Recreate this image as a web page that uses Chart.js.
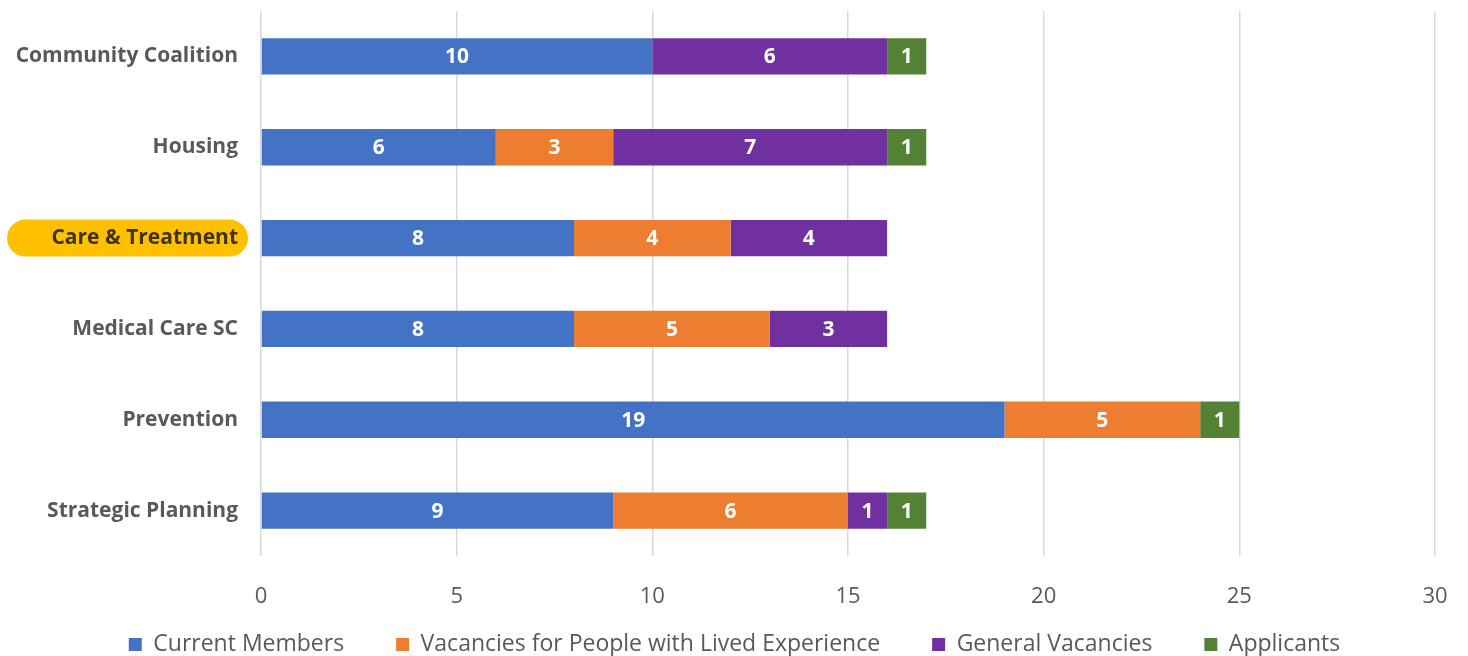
<!DOCTYPE html>
<html>
<head>
<meta charset="utf-8">
<script src="https://cdn.jsdelivr.net/npm/chart.js@4.4.1/dist/chart.umd.min.js"></script>
<style>
  html, body { margin: 0; padding: 0; background: #fff; }
  #wrap { width: 1468px; height: 656px; }
</style>
</head>
<body>
<div id="wrap"><canvas id="boardChart"></canvas></div>
<script>
// -------------------------------
// Data ---------------------------
// -------------------------------
const committees = [
  "Community Coalition",
  "Housing",
  "Care & Treatment",
  "Medical Care SC",
  "Prevention",
  "Strategic Planning",
];
const currentMembers = [10, 6, 8, 8, 19, 9];
const livedExperienceVacancies = [null, 3, 4, 5, 5, 6];
const generalVacancies = [6, 7, 4, 3, null, 1];
const applicants = [1, 1, null, null, 1, 1];
const xTicks = [0, 5, 10, 15, 20, 25, 30];

const highlightIndex = 2; // "Care & Treatment" gets the yellow pill
const FONT = "'Open Sans', Lato, sans-serif";
const GREY = "#595959";
const LEGEND_GAP = 52;   // gap between legend items (chart.js uses labels.padding for it)
const LEGEND_BOX = 38;   // height reserved for the legend under the x axis
const LEGEND_SHIFT = 37; // pull legend up so the big padding doesn't push it off canvas
const LEGEND_NUDGE = 17; // legend sits a little right of centre in the original

// -------------------------------
// Plugins ------------------------
// -------------------------------
const highlightPill = {
  id: "highlightPill",
  beforeDraw(chart) {
    const ctx = chart.ctx;
    const y = chart.scales.y.getPixelForTick(highlightIndex);
    ctx.save();
    ctx.fillStyle = "#FFC000";
    ctx.beginPath();
    ctx.roundRect(7, y - 18.5, 241, 37, 18.5);
    ctx.fill();
    ctx.restore();
  },
};

// labels.padding is both the item gap and the vertical padding; split them
const legendFit = {
  id: "legendFit",
  beforeLayout(chart) {
    const legend = chart.legend;
    if (!legend || legend._fixedFit) return;
    const fit = legend.fit;
    legend.fit = function () {
      fit.call(this);
      this.height = LEGEND_BOX;
    };
    legend._fixedFit = true;
  },
  afterLayout(chart) {
    const legend = chart.legend;
    if (!legend) return;
    legend.top -= LEGEND_SHIFT;
    legend.height += LEGEND_SHIFT;
    legend.left += LEGEND_NUDGE;
    legend.right += LEGEND_NUDGE;
  },
};

const barValues = {
  id: "barValues",
  afterDatasetsDraw(chart) {
    const ctx = chart.ctx;
    ctx.save();
    ctx.fillStyle = "#ffffff";
    ctx.font = "bold 21px " + FONT;
    ctx.textAlign = "center";
    ctx.textBaseline = "middle";
    chart.data.datasets.forEach((ds, i) => {
      chart.getDatasetMeta(i).data.forEach((bar, j) => {
        const v = ds.data[j];
        if (v === null || v === undefined) return;
        const p = bar.getProps(["x", "y", "base"], true);
        ctx.fillText(String(v), (p.x + p.base) / 2, p.y + 1);
      });
    });
    ctx.restore();
  },
};

// -------------------------------
// Chart --------------------------
// -------------------------------
const boardCtx = document.getElementById("boardChart").getContext("2d");
const boardChart = new Chart(boardCtx, {
  type: "bar",
  data: {
    labels: committees,
    datasets: [
      { label: "Current Members", data: currentMembers, backgroundColor: "#4472C4" },
      { label: "Vacancies for People with Lived Experience", data: livedExperienceVacancies, backgroundColor: "#ED7D31" },
      { label: "General Vacancies", data: generalVacancies, backgroundColor: "#7030A0" },
      { label: "Applicants", data: applicants, backgroundColor: "#548235" },
    ],
  },
  options: {
    indexAxis: "y",
    responsive: true,
    maintainAspectRatio: false,
    animation: false,
    layout: { padding: { top: 11, right: 33, bottom: 0, left: 0 } },
    datasets: {
      bar: { barPercentage: 0.4, categoryPercentage: 1.0 },
    },
    plugins: {
      tooltip: { enabled: false },
      legend: {
        position: "bottom",
        labels: {
          boxWidth: 13,
          boxHeight: 13,
          padding: LEGEND_GAP,
          color: GREY,
          font: { family: FONT, size: 23 },
        },
      },
    },
    scales: {
      x: {
        stacked: true,
        min: 0,
        max: 30,
        afterBuildTicks: (scale) => {
          scale.ticks = xTicks.map((v) => ({ value: v }));
        },
        afterFit: (scale) => {
          scale.height = 62;
          scale.paddingLeft = 0;
          scale.paddingRight = 0;
        },
        grid: { color: "#d9d9d9", lineWidth: 1.5, drawTicks: false },
        border: { display: false },
        ticks: { color: GREY, padding: 28, font: { family: FONT, size: 22 } },
      },
      y: {
        stacked: true,
        afterFit: (scale) => {
          scale.width = 261;
          scale.paddingTop = 0;
          scale.paddingBottom = 0;
        },
        grid: { display: false },
        border: { display: false },
        ticks: {
          padding: 15,
          color: (c) => (c.index === highlightIndex ? "#403300" : GREY),
          font: { family: FONT, size: 21, weight: "bold" },
        },
      },
    },
  },
  plugins: [highlightPill, legendFit, barValues],
});
</script>
</body>
</html>
